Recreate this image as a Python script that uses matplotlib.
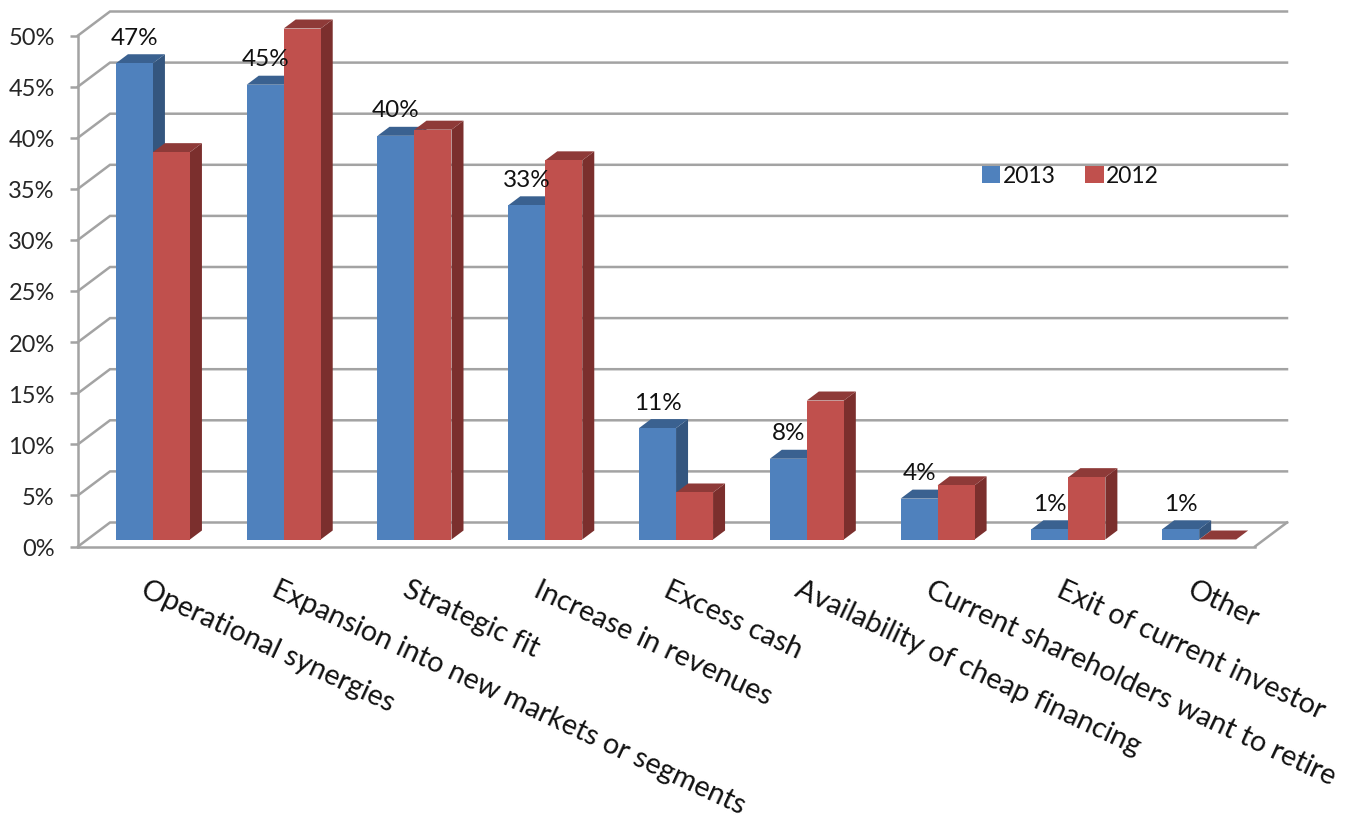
import matplotlib
matplotlib.use("Agg")
import matplotlib.pyplot as plt
from matplotlib.patches import Polygon

plt.rcParams['font.family'] = ['Lato', 'DejaVu Sans']

categories = ["Operational synergies", "Expansion into new markets or segments", "Strategic fit",
              "Increase in revenues", "Excess cash", "Availability of cheap financing",
              "Current shareholders want to retire", "Exit of current investor", "Other"]
values_2013 = [46.6, 44.5, 39.5, 32.7, 10.9, 7.9, 4.0, 1.0, 1.0]
values_2012 = [37.9, 50.0, 40.1, 37.1, 4.6, 13.6, 5.3, 6.1, 0.0]
labels_2013 = ["47%", "45%", "40%", "33%", "11%", "8%", "4%", "1%", "1%"]
y_ticks = [0, 5, 10, 15, 20, 25, 30, 35, 40, 45, 50]

W, H = 1355, 820
L, R, Y0, Y50 = 78, 1255, 547.5, 36.5
fig = plt.figure(figsize=(W / 100, H / 100), dpi=100, facecolor='white')
ax = fig.add_axes([L / W, 1 - Y0 / H, (R - L) / W, (Y0 - Y50) / H])
ax.set_xlim(0, len(categories))
ax.set_ylim(0, 50)
px_x = (R - L) / len(categories)
px_y = (Y0 - Y50) / 50

GRID = '#a3a3a3'
wall_dx, wall_dy = 32 / px_x, 24 / px_y
for t in y_ticks:
    ax.plot([0, wall_dx, len(categories) + wall_dx], [t, t + wall_dy, t + wall_dy],
            color=GRID, lw=1.8, clip_on=False, zorder=1, solid_joinstyle='miter')
ax.plot([len(categories), len(categories) + wall_dx], [0, wall_dy], color=GRID, lw=1.8, clip_on=False, zorder=1)

for s in ['top', 'right']:
    ax.spines[s].set_visible(False)
for s in ['left', 'bottom']:
    ax.spines[s].set_color(GRID)
    ax.spines[s].set_linewidth(1.8)
    ax.spines[s].set_zorder(1.5)

ax.set_yticks(y_ticks, [f"{t}%" for t in y_ticks], fontsize=17, color='#262626')
ax.tick_params(axis='y', length=5.8, width=1.8, color=GRID, pad=11)
centers = [i + 0.573 for i in range(len(categories))]
ax.set_xticks([i + 0.49 + 6 / px_x for i in range(len(categories))], categories, fontsize=20.8, color='#111111',
              rotation=-25, ha='left', va='top', rotation_mode='anchor')
ax.tick_params(axis='x', length=0, pad=21)

bw = 37 / px_x
base = 7 / px_y
dx, dy = 12 / px_x, 9 / px_y


def draw_series(xs, values, front, top, side, label, z):
    bars = ax.bar(xs, values, width=bw, bottom=base, color=front, label=label, zorder=z + 0.2,
                  linewidth=0, clip_on=False)
    for x, v in zip(xs, values):
        xl, xr, yt = x - bw / 2, x + bw / 2, base + v
        ax.add_patch(Polygon([(xr, base), (xr + dx, base + dy), (xr + dx, yt + dy), (xr, yt)],
                             facecolor=side, edgecolor='none', zorder=z, clip_on=False))
        ax.add_patch(Polygon([(xl, yt), (xl + dx, yt + dy), (xr + dx, yt + dy), (xr, yt)],
                             facecolor=top, edgecolor='none', zorder=z + 0.1, clip_on=False))
    return bars


b13 = draw_series([c - bw / 2 for c in centers], values_2013, '#4F81BD', '#3A6190', '#34567F', '2013', 2)
b12 = draw_series([c + bw / 2 for c in centers], values_2012, '#C0504D', '#8E3A38', '#7B2F2D', '2012', 3)

for x, v, s in zip(centers, values_2013, labels_2013):
    ax.annotate(s, (x - bw / 2, base + v), xytext=(0, 26 * 0.72), textcoords='offset points',
                ha='center', va='center', fontsize=17.5, color='#111111', zorder=6, annotation_clip=False)

leg = ax.legend(handles=[b13, b12], ncol=2, frameon=False, fontsize=16.5, loc='center left',
                bbox_to_anchor=((982 - L) / (R - L), (Y0 - 177) / (Y0 - Y50)),
                borderpad=0, borderaxespad=0, handlelength=0.8, handleheight=0.8,
                handletextpad=0.1, columnspacing=1.3, labelcolor='#111111')

fig.savefig("out.png", dpi=100, facecolor='white')
